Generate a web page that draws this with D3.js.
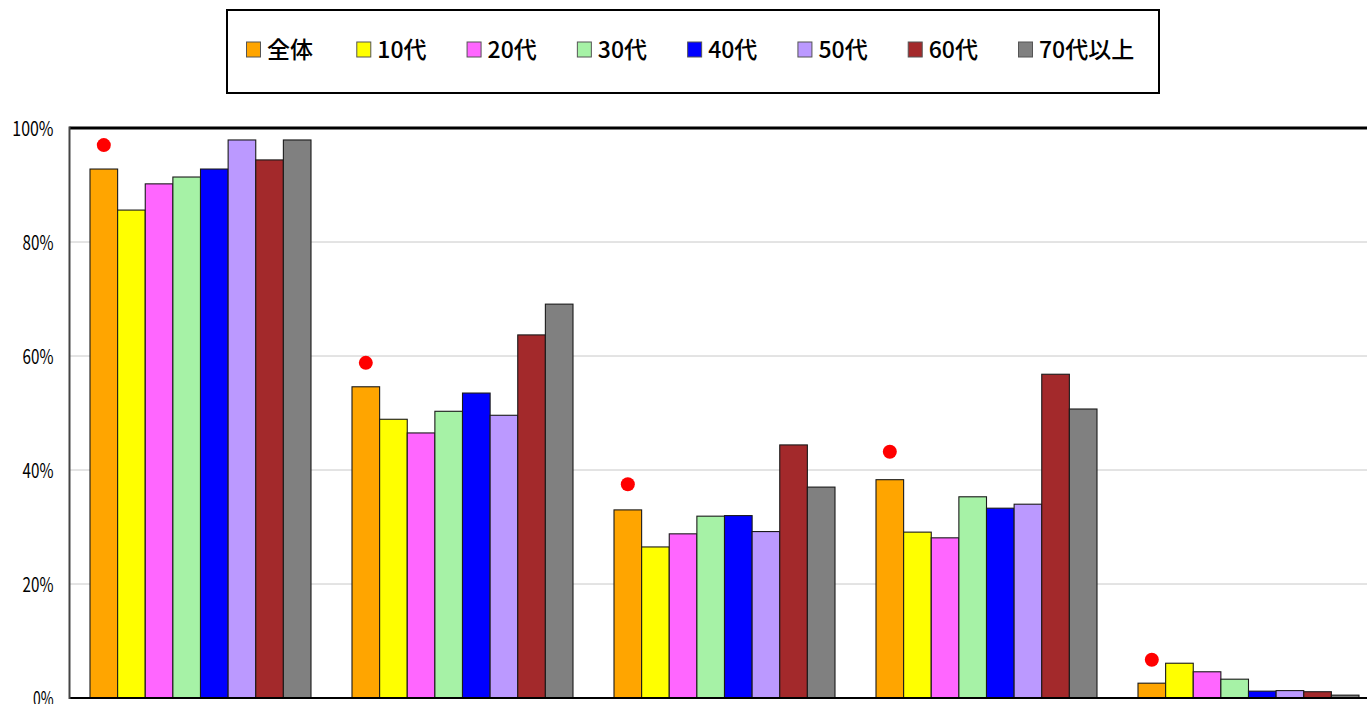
<!DOCTYPE html>
<html>
<head>
<meta charset="utf-8">
<script src="https://cdn.jsdelivr.net/npm/d3@7"></script>
<style>
  html, body { margin: 0; padding: 0; background: #fff; overflow: hidden; }
  svg { display: block; }
</style>
</head>
<body>
<svg id="chart" width="1367" height="704"></svg>
<script>
// Survey categories (five items) and age groups
const categories = ["項目A", "項目B", "項目C", "項目D", "項目E"];
const seriesNames = ["全体", "10代", "20代", "30代", "40代", "50代", "60代", "70代以上"];
const seriesColors = ["#FFA500", "#FFFF00", "#FF66FF", "#A6F2A6", "#0000FF", "#BB99FF", "#A3292B", "#808080"];

// Share (%) per age group, one array per category
const valuesA = [92.8, 85.6, 90.2, 91.4, 92.8, 97.9, 94.4, 97.9];
const valuesB = [54.6, 48.9, 46.5, 50.3, 53.5, 49.6, 63.7, 69.1];
const valuesC = [33.0, 26.5, 28.8, 31.9, 32.0, 29.2, 44.4, 37.0];
const valuesD = [38.3, 29.1, 28.1, 35.3, 33.3, 34.0, 56.8, 50.7];
const valuesE = [2.6, 6.1, 4.6, 3.3, 1.2, 1.3, 1.1, 0.5];
const groupValues = [valuesA, valuesB, valuesC, valuesD, valuesE];

// Previous survey result for 全体 (red markers)
const previousOverall = [97.0, 58.8, 37.5, 43.2, 6.7];

const yTicks = [0, 20, 40, 60, 80, 100];

const svg = d3.select("#chart");
const FONT = "'Noto Sans CJK JP', 'Noto Sans', sans-serif";

const plot = { left: 69.5, top: 128, bottom: 698, right: 1379.5 };

const x0 = d3.scaleBand()
  .domain(categories)
  .range([plot.left, plot.right])
  .paddingInner(0.1565)
  .paddingOuter(0.07825);

const x1 = d3.scaleBand()
  .domain(seriesNames)
  .range([0, x0.bandwidth()])
  .padding(0);

const y = d3.scaleLinear().domain([0, 100]).range([plot.bottom, plot.top]);
const color = d3.scaleOrdinal().domain(seriesNames).range(seriesColors);

// Gridlines
svg.append("g")
  .selectAll("line")
  .data(yTicks.filter(t => t > 0 && t < 100))
  .join("line")
  .attr("x1", plot.left)
  .attr("x2", 1367)
  .attr("y1", d => y(d))
  .attr("y2", d => y(d))
  .attr("stroke", "#c8c8c8")
  .attr("stroke-width", 1);

// Bars
const groups = svg.append("g")
  .selectAll("g")
  .data(categories.map((c, i) => ({ cat: c, vals: groupValues[i] })))
  .join("g")
  .attr("transform", d => `translate(${x0(d.cat)},0)`);

groups.selectAll("rect")
  .data(d => d.vals.map((v, j) => ({ name: seriesNames[j], v })))
  .join("rect")
  .attr("x", d => x1(d.name))
  .attr("y", d => y(d.v))
  .attr("width", x1.bandwidth())
  .attr("height", d => y(0) - y(d.v))
  .attr("fill", d => color(d.name))
  .attr("stroke", "#1a1a1a")
  .attr("stroke-width", 1.1);

// Previous-survey markers above the 全体 bars
svg.append("g")
  .selectAll("circle")
  .data(categories.map((c, i) => ({ cat: c, v: previousOverall[i] })))
  .join("circle")
  .attr("cx", d => x0(d.cat) + x1(seriesNames[0]) + x1.bandwidth() / 2)
  .attr("cy", d => y(d.v))
  .attr("r", 7)
  .attr("fill", "#FF0000");

// Axes frame
svg.append("line")
  .attr("x1", plot.left).attr("x2", 1367)
  .attr("y1", plot.top).attr("y2", plot.top)
  .attr("stroke", "#000").attr("stroke-width", 3);
svg.append("line")
  .attr("x1", plot.left).attr("x2", 1367)
  .attr("y1", plot.bottom).attr("y2", plot.bottom)
  .attr("stroke", "#000").attr("stroke-width", 2);
svg.append("line")
  .attr("x1", plot.left).attr("x2", plot.left)
  .attr("y1", plot.top - 1.5).attr("y2", plot.bottom + 1)
  .attr("stroke", "#444").attr("stroke-width", 2);

// Y tick labels
const yAxis = d3.axisLeft(y).tickValues(yTicks).tickFormat(d => d + "%").tickSize(0).tickPadding(16);
const yg = svg.append("g").attr("transform", `translate(${plot.left},0)`).call(yAxis);
yg.select(".domain").remove();
yg.selectAll("text")
  .attr("font-family", FONT)
  .attr("font-size", 20)
  .attr("fill", "#000")
  .attr("dy", "0.36em")
  .attr("textLength", d => (String(d).length + 1) * 10.3)
  .attr("lengthAdjust", "spacingAndGlyphs");

// Legend
const legend = svg.append("g");
legend.append("rect")
  .attr("x", 227).attr("y", 10)
  .attr("width", 932).attr("height", 83)
  .attr("fill", "#fff")
  .attr("stroke", "#000").attr("stroke-width", 2);

const legendX = d3.scalePoint().domain(seriesNames).range([246, 1018]);
const items = legend.selectAll("g.item")
  .data(seriesNames)
  .join("g")
  .attr("class", "item")
  .attr("transform", d => `translate(${legendX(d)},0)`);
items.append("rect")
  .attr("x", 0.5).attr("y", 42)
  .attr("width", 14).attr("height", 15)
  .attr("fill", d => color(d))
  .attr("stroke", "#555").attr("stroke-width", 1);
items.append("text")
  .attr("x", 21)
  .attr("y", 58)
  .attr("font-family", FONT)
  .attr("font-size", 23)
  .attr("font-weight", 500)
  .attr("fill", "#000")
  .text(d => d);
</script>
</body>
</html>
